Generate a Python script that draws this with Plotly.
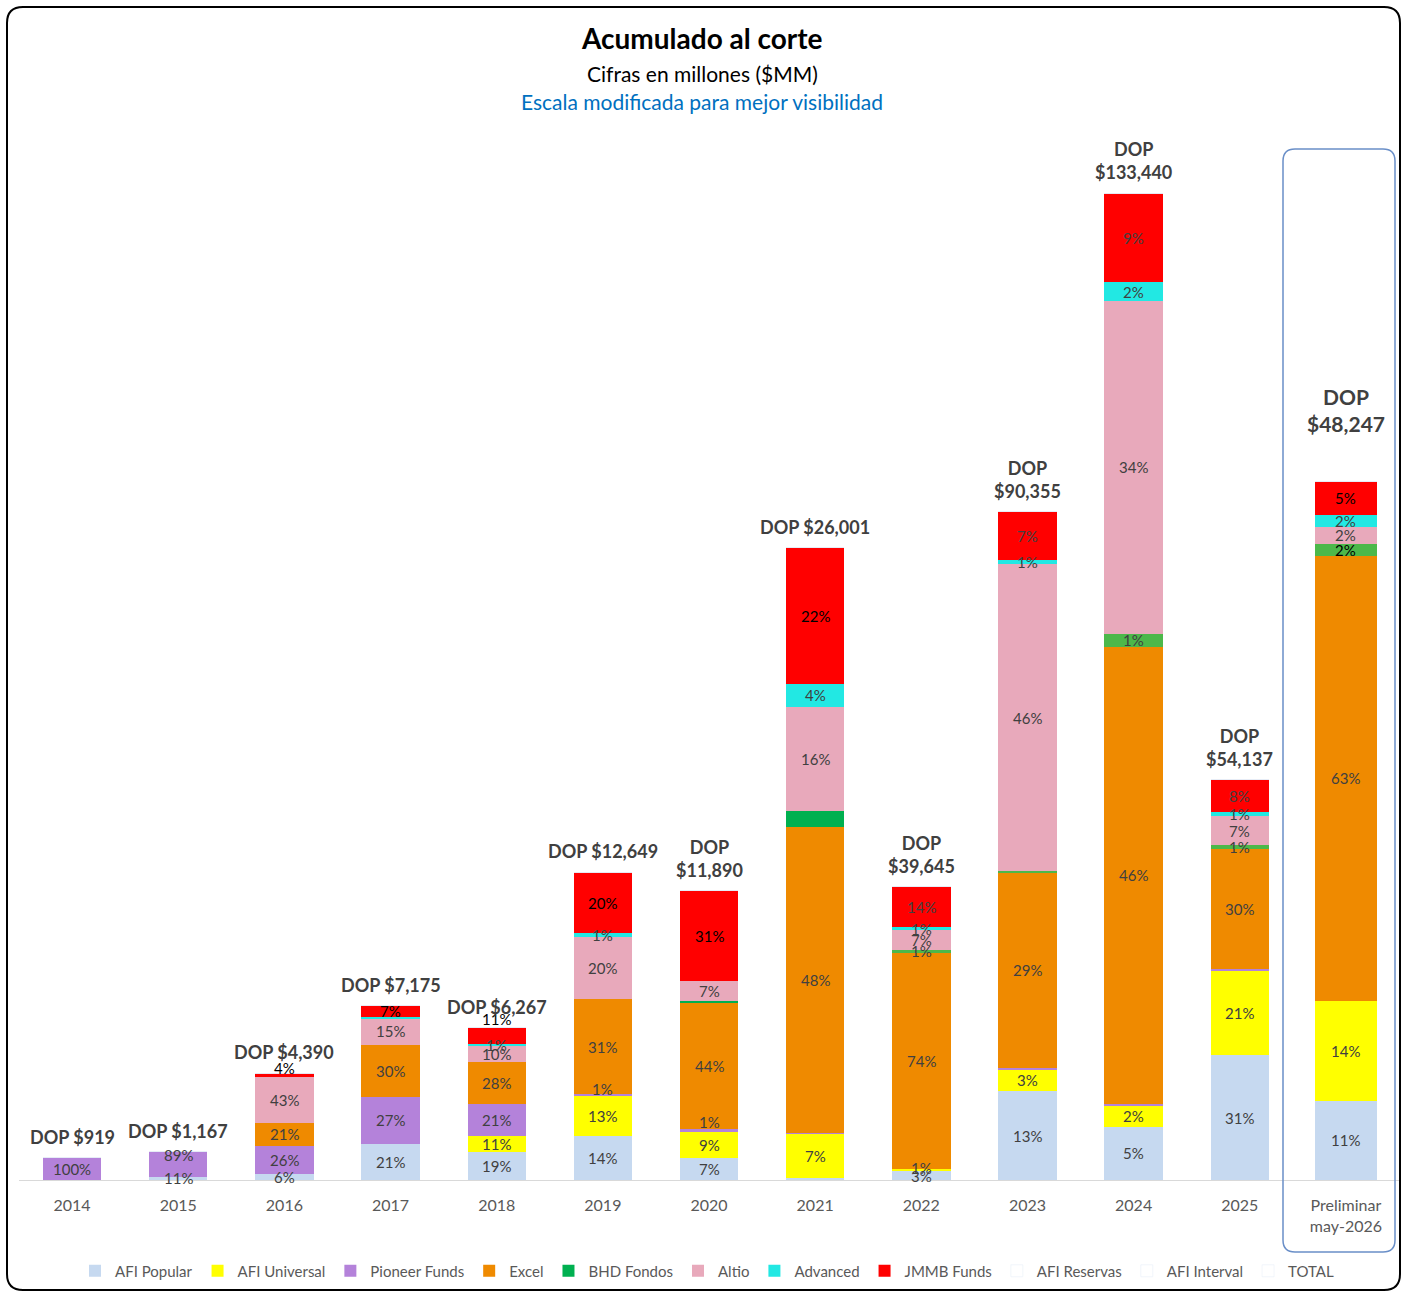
import plotly.graph_objects as go

# periodos y totales acumulados (millones DOP)
periodos = ['2014', '2015', '2016', '2017', '2018', '2019', '2020', '2021',
            '2022', '2023', '2024', '2025', 'Preliminar<br>may-2026']
totales = [919, 1167, 4390, 7175, 6267, 12649, 11890, 26001,
           39645, 90355, 133440, 54137, 48247]
# escala modificada para mejor visibilidad
factor_escala = [1, 1, 1, 1, 1, 1, 1, 1, 0.304, 0.304, 0.304, 0.304, 0.595]

# participacion (%) de cada administradora por periodo
afi_popular = [0, 11, 5.7, 20.7, 18.6, 14.4, 7.4, 0.3, 3.0, 13.3, 5.4, 31.2, 11.3]
afi_universal = [0, 0, 0, 0, 10.7, 12.7, 9.0, 7.0, 0.8, 3.3, 2.1, 21.3, 14.2]
pioneer = [100, 89, 26.4, 26.7, 20.6, 0.7, 1.0, 0.2, 0, 0.15, 0.2, 0.3, 0]
excel = [0, 0, 21.4, 29.8, 28.1, 30.8, 43.6, 48.4, 73.8, 29.3, 46.3, 30.0, 63.4]
bhd = [0, 0, 0, 0, 0, 0, 0.3, 2.5, 0.8, 0.15, 1.3, 1.0, 1.7]
altio = [0, 0, 42.7, 15.4, 10.4, 20.1, 6.9, 16.5, 6.8, 46.0, 33.7, 7.2, 2.4]
advanced = [0, 0, 0, 0.45, 1.4, 1.3, 0, 3.6, 1.2, 0.6, 1.9, 1.0, 1.7]
jmmb = [0, 0, 3.8, 6.7, 10.6, 19.6, 31.1, 21.6, 13.6, 7.2, 9.0, 8.1, 4.7]
afi_reservas = [0] * 13
afi_interval = [0] * 13

verde_osc = '#00B050'
verde = '#4CB84A'
fondos = [
    ('AFI Popular', afi_popular, '#C6D9F0'),
    ('AFI Universal', afi_universal, '#FFFF00'),
    ('Pioneer Funds', pioneer, '#B482DA'),
    ('Excel', excel, '#EF8A00'),
    ('BHD Fondos', bhd, [verde_osc] * 8 + [verde] * 5),
    ('Altio', altio, '#E8A9BB'),
    ('Advanced', advanced, '#22E8E3'),
    ('JMMB Funds', jmmb, '#FF0000'),
]

etiquetas_ocultas = {('BHD Fondos', 7)}
etiquetas_negras = {('JMMB Funds', i) for i in [2, 3, 4, 5, 6, 7, 12]} | {('BHD Fondos', 12)}
ajuste_etiqueta = {('Pioneer Funds', 1): 9, ('JMMB Funds', 2): 7, ('JMMB Funds', 4): 17,
                   ('Pioneer Funds', 5): 6, ('Pioneer Funds', 6): 9, ('AFI Universal', 8): 2}
dos_lineas = {6, 8, 9, 10, 11, 12}

FONT = 'Lato'
W, H = 1405, 1295
ML, MR, MT, MB = 19, 6, 108, 115
PW, PH = W - ML - MR, H - MT - MB


def px(x):
    return (x - ML) / PW


def py(y):
    return (H - MB - y) / PH


def caja(x0, y0, x1, y1, r):
    return (f"M {px(x0 + r)},{py(y0)} L {px(x1 - r)},{py(y0)} "
            f"Q {px(x1)},{py(y0)} {px(x1)},{py(y0 + r)} L {px(x1)},{py(y1 - r)} "
            f"Q {px(x1)},{py(y1)} {px(x1 - r)},{py(y1)} L {px(x0 + r)},{py(y1)} "
            f"Q {px(x0)},{py(y1)} {px(x0)},{py(y1 - r)} L {px(x0)},{py(y0 + r)} "
            f"Q {px(x0)},{py(y0)} {px(x0 + r)},{py(y0)} Z")


x = list(range(len(periodos)))
altura = [t * f for t, f in zip(totales, factor_escala)]
suma = [sum(f[1][i] for f in fondos) for i in x]
ancho = [0.55] * 12 + [0.58]

fig = go.Figure()
base = [0.0] * len(x)
anotaciones = []
for nombre, pct, color in fondos:
    seg = [altura[i] * pct[i] / suma[i] for i in x]
    fig.add_trace(go.Bar(x=x, y=seg, name=nombre, marker=dict(color=color, line=dict(width=0)),
                         width=ancho, hoverinfo='skip'))
    for i in x:
        if round(pct[i]) < 1 or (nombre, i) in etiquetas_ocultas:
            continue
        anotaciones.append(dict(
            x=i, y=base[i] + seg[i] / 2, text=f"{round(pct[i])}%", showarrow=False,
            yshift=ajuste_etiqueta.get((nombre, i), 0),
            font=dict(family=FONT, size=15,
                      color='#000000' if (nombre, i) in etiquetas_negras else '#404040')))
    base = [base[i] + seg[i] for i in x]

# series sin datos que aparecen en la leyenda
for nombre, vals in [('AFI Reservas', afi_reservas), ('AFI Interval', afi_interval),
                     ('TOTAL', [0] * 13)]:
    fig.add_trace(go.Bar(x=x, y=vals, name=nombre, marker=dict(color='rgba(0,0,0,0)'),
                         width=ancho, hoverinfo='skip'))

# etiquetas de total
for i in x:
    sep = '<br>' if i in dos_lineas else ' '
    ultimo = i == len(x) - 1
    anotaciones.append(dict(
        x=i, y=altura[i], text=f"<b>DOP{sep}${totales[i]:,}</b>", showarrow=False,
        yanchor='bottom', yshift=44 if ultimo else 8,
        font=dict(family=FONT, size=21 if ultimo else 18, color='#404040')))

# titulos
for texto, ypix, size, color in [('<b>Acumulado al corte</b>', 38, 28, '#000000'),
                                  ('Cifras en millones ($MM)', 73, 21, '#000000'),
                                  ('Escala modificada para mejor visibilidad', 101, 21, '#0070C0')]:
    anotaciones.append(dict(x=px(702), y=py(ypix), xref='paper', yref='paper', text=texto,
                            showarrow=False, yanchor='middle', xanchor='center',
                            font=dict(family=FONT, size=size, color=color)))

fig.update_layout(
    width=W, height=H,
    margin=dict(l=ML, r=MR, t=MT, b=MB),
    barmode='stack',
    paper_bgcolor='white', plot_bgcolor='white',
    font=dict(family=FONT, color='#595959'),
    xaxis=dict(tickvals=x, ticktext=periodos, range=[-0.5, 12.5], showgrid=False,
               showline=True, linecolor='#D9D9D9', linewidth=1, ticks='',
               ticklabelstandoff=11,
               tickfont=dict(family=FONT, size=16, color='#595959'), zeroline=False),
    yaxis=dict(range=[0, PH / 0.02432], visible=False, showgrid=False, zeroline=False),
    legend=dict(orientation='h', x=px(707), xanchor='center', y=py(1271), yanchor='middle',
                traceorder='normal', bgcolor='rgba(0,0,0,0)',
                font=dict(family=FONT, size=15, color='#595959'), itemwidth=30),
    annotations=anotaciones,
    shapes=[
        dict(type='path', xref='paper', yref='paper', path=caja(1283, 149, 1395, 1252, 12),
             line=dict(color='#6A8FC8', width=1.5)),
        dict(type='path', xref='paper', yref='paper', path=caja(7, 7, 1400, 1290, 16),
             line=dict(color='#000000', width=2)),
    ],
)

fig.write_html("out.html", config={'displayModeBar': False},
               post_script="document.body.style.margin='0';document.body.style.overflow='hidden';")
